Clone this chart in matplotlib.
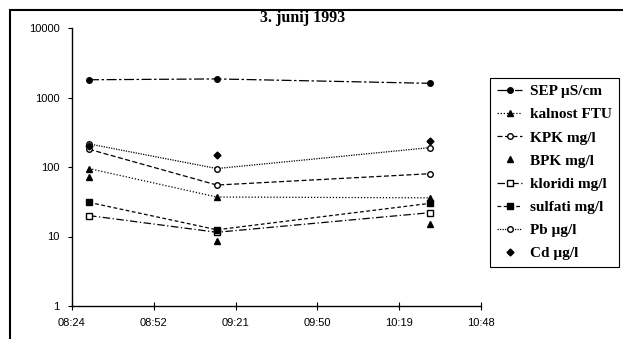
import matplotlib.pyplot as plt
from matplotlib.patches import Rectangle
from matplotlib.ticker import FixedLocator, NullLocator

# sample times and measured values
times = ["08:30", "09:15", "10:30"]
sep = [1800, 1850, 1600]
kalnost = [95, 37, 36]
kpk = [180, 55, 80]
bpk = [72, 8.5, 15]
kloridi = [20, 11.5, 22]
sulfati = [31, 12.5, 30]
pb = [215, 95, 190]
cd = [200, 150, 240]

xtick_labels = ["08:24", "08:52", "09:21", "09:50", "10:19", "10:48"]
ytick_values = [1, 10, 100, 1000, 10000]
title = "3. junij 1993"


def to_min(s):
    h, m = s.split(":")
    return int(h) * 60 + int(m)


x = [to_min(t) for t in times]
# excel-style ticks every 0.02 day
xticks = [to_min("08:24") + i * 28.8 for i in range(len(xtick_labels))]

fig = plt.figure(figsize=(6.23, 3.39), dpi=100)
ax = fig.add_axes([72 / 623, 1 - 306 / 339, 409 / 623, 278 / 339])

lw = 0.9
ax.plot(x, sep, color="black", lw=lw, ls=(0, (8, 2, 2, 2)), marker="o", ms=4, mfc="black", label="SEP \u00b5S/cm")
ax.plot(x, kalnost, color="black", lw=lw, ls=(0, (1, 1.5)), marker="^", ms=4, mfc="black", label="kalnost FTU")
ax.plot(x, kpk, color="black", lw=lw, ls=(0, (4, 2)), marker="o", ms=4, mfc="white", label="KPK mg/l")
ax.plot(x, bpk, color="black", ls="none", marker="^", ms=4, mfc="black", label="BPK mg/l")
ax.plot(x, kloridi, color="black", lw=lw, ls=(0, (6, 2, 1, 2)), marker="s", ms=4, mfc="white", label="kloridi mg/l")
ax.plot(x, sulfati, color="black", lw=lw, ls=(0, (3, 2)), marker="s", ms=4, mfc="black", label="sulfati mg/l")
ax.plot(x, pb, color="black", lw=lw, ls=(0, (1, 1)), marker="o", ms=4, mfc="white", label="Pb \u00b5g/l")
ax.plot(x, cd, color="black", ls="none", marker="D", ms=3.5, mfc="black", label="Cd \u00b5g/l")

ax.set_yscale("log")
ax.set_ylim(1, 10000)
ax.yaxis.set_major_locator(FixedLocator(ytick_values))
ax.yaxis.set_minor_locator(NullLocator())
ax.set_yticklabels([str(v) for v in ytick_values])
ax.set_xlim(xticks[0], xticks[-1])
ax.set_xticks(xticks)
ax.set_xticklabels(xtick_labels)

for s in ["top", "right"]:
    ax.spines[s].set_visible(False)
ax.spines["left"].set_linewidth(1.0)
ax.spines["bottom"].set_linewidth(1.0)
ax.tick_params(axis="x", direction="inout", length=6, width=0.8, labelsize=8, pad=6)
ax.tick_params(axis="y", direction="out", length=3, width=0.8, labelsize=8, pad=6)
for lab in ax.get_xticklabels() + ax.get_yticklabels():
    lab.set_family("Liberation Sans")

fig.text(0.485, 1 - 18 / 339, title, ha="center", va="center",
         family="Liberation Serif", fontweight="bold", fontsize=11.5)

leg = fig.legend(loc="upper left", bbox_to_anchor=(482 / 623, 1 - 70 / 339),
                 prop={"family": "Liberation Serif", "size": 11, "weight": "bold"},
                 handlelength=1.7, handletextpad=0.5, labelspacing=0.62,
                 borderpad=0.45, fancybox=False, edgecolor="black", framealpha=1)
leg.get_frame().set_linewidth(0.8)

# outer chart border (cut off on right and bottom in the scan)
fig.patches.append(Rectangle((10 / 623, -0.02), 1.0, 1 - 10 / 339 + 0.02,
                             transform=fig.transFigure, fill=False,
                             edgecolor="black", lw=1.5, clip_on=False))

fig.savefig("out.png", dpi=100)
